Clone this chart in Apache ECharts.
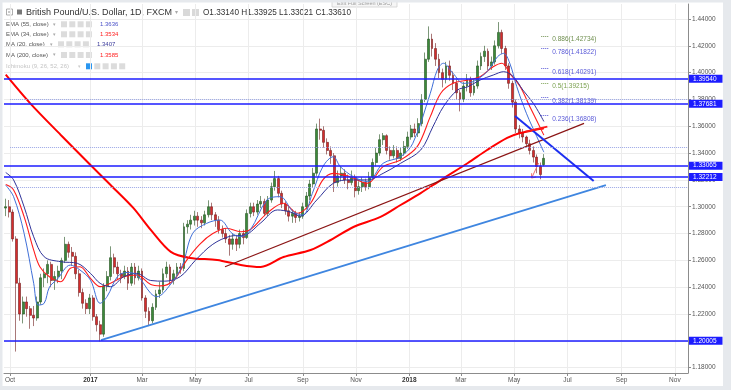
<!DOCTYPE html>
<html><head><meta charset="utf-8">
<script src="https://cdn.jsdelivr.net/npm/echarts@6/dist/echarts.min.js"></script>
<style>html,body{margin:0;padding:0;background:#fff;}#c{width:731px;height:390px;}</style>
</head><body><div id="c"></div>
<script>
// ================= DATA =================
const candleStart = '2016-09-26';
const candleStepDays = 4;
// rows: [open, close, low, high]
const ohlc = [
[1.2990,1.3000,1.2930,1.3060],[1.3000,1.2960,1.2920,1.3050],[1.2960,1.2760,1.2740,1.2980],[1.2760,1.2430,1.1920,1.2780],
[1.2430,1.2200,1.2150,1.2470],[1.2200,1.2290,1.2130,1.2330],[1.2290,1.2240,1.2180,1.2330],[1.2240,1.2190,1.2090,1.2260],
[1.2190,1.2170,1.2110,1.2260],[1.2170,1.2290,1.2150,1.2330],[1.2290,1.2470,1.2270,1.2500],[1.2470,1.2500,1.2400,1.2540],
[1.2500,1.2570,1.2430,1.2600],[1.2570,1.2450,1.2400,1.2590],[1.2450,1.2480,1.2380,1.2520],[1.2480,1.2520,1.2430,1.2560],
[1.2520,1.2600,1.2460,1.2620],[1.2600,1.2720,1.2580,1.2775],[1.2720,1.2660,1.2620,1.2740],[1.2660,1.2630,1.2560,1.2700],
[1.2630,1.2500,1.2460,1.2660],[1.2500,1.2360,1.2330,1.2530],[1.2360,1.2280,1.2240,1.2390],[1.2280,1.2240,1.2200,1.2310],
[1.2240,1.2320,1.2200,1.2350],[1.2320,1.2180,1.2150,1.2340],[1.2180,1.2120,1.2070,1.2200],[1.2120,1.2050,1.1995,1.2150],
[1.2050,1.2410,1.2030,1.2430],[1.2410,1.2480,1.2370,1.2520],[1.2480,1.2620,1.2450,1.2705],[1.2620,1.2550,1.2500,1.2650],
[1.2550,1.2500,1.2460,1.2590],[1.2500,1.2480,1.2430,1.2530],[1.2480,1.2520,1.2460,1.2560],[1.2520,1.2430,1.2380,1.2550],
[1.2430,1.2550,1.2410,1.2580],[1.2550,1.2470,1.2420,1.2580],[1.2470,1.2520,1.2450,1.2560],[1.2520,1.2320,1.2300,1.2540],
[1.2320,1.2220,1.2170,1.2340],[1.2220,1.2150,1.2110,1.2250],[1.2150,1.2250,1.2130,1.2280],[1.2250,1.2350,1.2230,1.2380],
[1.2350,1.2380,1.2320,1.2440],[1.2380,1.2500,1.2360,1.2540],[1.2500,1.2550,1.2470,1.2590],[1.2550,1.2450,1.2420,1.2570],
[1.2450,1.2500,1.2420,1.2530],[1.2500,1.2550,1.2470,1.2580],[1.2550,1.2540,1.2500,1.2580],[1.2540,1.2850,1.2520,1.2880],
[1.2850,1.2870,1.2800,1.2900],[1.2870,1.2900,1.2830,1.2940],[1.2900,1.2930,1.2860,1.2970],[1.2930,1.2900,1.2850,1.2960],
[1.2900,1.2880,1.2840,1.2930],[1.2880,1.2940,1.2860,1.2970],[1.2940,1.3000,1.2920,1.3048],[1.3000,1.2940,1.2900,1.3030],
[1.2940,1.2900,1.2850,1.2960],[1.2900,1.2830,1.2800,1.2930],[1.2830,1.2800,1.2770,1.2860],[1.2800,1.2760,1.2730,1.2840],
[1.2760,1.2720,1.2635,1.2790],[1.2720,1.2760,1.2680,1.2800],[1.2760,1.2720,1.2670,1.2790],[1.2720,1.2800,1.2690,1.2830],
[1.2800,1.2770,1.2720,1.2830],[1.2770,1.2950,1.2760,1.2980],[1.2950,1.3000,1.2920,1.3030],[1.3000,1.2960,1.2930,1.3030],
[1.2960,1.3020,1.2940,1.3050],[1.3020,1.3040,1.2990,1.3080],[1.3040,1.2950,1.2930,1.3060],[1.2950,1.3050,1.2930,1.3080],
[1.3050,1.3150,1.3030,1.3180],[1.3150,1.3210,1.3120,1.3267],[1.3210,1.3100,1.3070,1.3230],[1.3100,1.3020,1.2990,1.3120],
[1.3020,1.2970,1.2940,1.3040],[1.2970,1.2930,1.2890,1.3000],[1.2930,1.2950,1.2880,1.2980],[1.2950,1.2920,1.2880,1.2970],
[1.2920,1.2930,1.2890,1.2960],[1.2930,1.3000,1.2910,1.3030],[1.3000,1.3080,1.2980,1.3110],[1.3080,1.3170,1.3050,1.3200],
[1.3170,1.3250,1.3140,1.3290],[1.3250,1.3580,1.3230,1.3620],[1.3580,1.3570,1.3500,1.3657],[1.3570,1.3480,1.3440,1.3600],
[1.3480,1.3420,1.3390,1.3510],[1.3420,1.3380,1.3320,1.3450],[1.3380,1.3180,1.3110,1.3400],[1.3180,1.3230,1.3150,1.3270],
[1.3230,1.3250,1.3190,1.3300],[1.3250,1.3200,1.3170,1.3280],[1.3200,1.3180,1.3130,1.3240],[1.3180,1.3220,1.3160,1.3270],
[1.3220,1.3120,1.3070,1.3240],[1.3120,1.3150,1.3090,1.3190],[1.3150,1.3180,1.3110,1.3220],[1.3180,1.3150,1.3120,1.3210],
[1.3150,1.3220,1.3130,1.3260],[1.3220,1.3330,1.3200,1.3360],[1.3330,1.3400,1.3300,1.3440],[1.3400,1.3500,1.3380,1.3540],
[1.3500,1.3530,1.3460,1.3550],[1.3530,1.3420,1.3390,1.3540],[1.3420,1.3380,1.3350,1.3450],[1.3380,1.3420,1.3360,1.3460],
[1.3420,1.3360,1.3330,1.3450],[1.3360,1.3400,1.3340,1.3440],[1.3400,1.3450,1.3380,1.3490],[1.3450,1.3520,1.3430,1.3560],
[1.3520,1.3580,1.3500,1.3610],[1.3580,1.3550,1.3520,1.3620],[1.3550,1.3620,1.3520,1.3660],[1.3620,1.3800,1.3600,1.3840],
[1.3800,1.4100,1.3780,1.4150],[1.4100,1.4250,1.4080,1.4345],[1.4250,1.4180,1.4120,1.4290],[1.4180,1.4100,1.4050,1.4220],
[1.4100,1.4000,1.3960,1.4140],[1.4000,1.3950,1.3890,1.4030],[1.3950,1.4050,1.3920,1.4080],[1.4050,1.3980,1.3940,1.4090],
[1.3980,1.3920,1.3870,1.4010],[1.3920,1.3850,1.3800,1.3950],[1.3850,1.3800,1.3711,1.3870],[1.3800,1.3900,1.3780,1.3930],
[1.3900,1.3950,1.3860,1.3990],[1.3950,1.3850,1.3820,1.3970],[1.3850,1.3900,1.3830,1.3950],[1.3900,1.4050,1.3880,1.4090],
[1.4050,1.4120,1.4020,1.4150],[1.4120,1.4160,1.4080,1.4200],[1.4160,1.4050,1.4020,1.4180],[1.4050,1.4080,1.4020,1.4120],
[1.4080,1.4200,1.4060,1.4240],[1.4200,1.4300,1.4180,1.4377],[1.4300,1.4180,1.4140,1.4320],[1.4180,1.4050,1.4020,1.4200],
[1.4050,1.3920,1.3880,1.4070],[1.3920,1.3780,1.3740,1.3940],[1.3780,1.3580,1.3550,1.3800],[1.3580,1.3550,1.3510,1.3610],
[1.3550,1.3520,1.3480,1.3580],[1.3520,1.3470,1.3450,1.3530],[1.3470,1.3420,1.3390,1.3500],[1.3420,1.3370,1.3330,1.3450],
[1.3370,1.3300,1.3250,1.3390],[1.3300,1.3240,1.3205,1.3330],[1.33140,1.33610,1.33021,1.33925]
];

const ma200 = [['2016-09-26',1.3985],['2016-10-24',1.3771],['2016-11-28',1.3535],['2017-01-01',1.3311],['2017-01-24',1.3162],
['2017-02-19',1.2991],['2017-03-11',1.2827],['2017-04-03',1.2663],['2017-04-25',1.2618],['2017-05-26',1.2603],['2017-06-22',1.2566],
['2017-07-15',1.2551],['2017-08-10',1.2625],['2017-09-10',1.2677],['2017-10-03',1.2752],['2017-10-29',1.2849],['2017-11-29',1.2924],
['2017-12-22',1.3013],['2018-01-14',1.3102],['2018-02-06',1.3199],['2018-03-09',1.3326],['2018-03-31',1.3423],['2018-04-23',1.3513],
['2018-05-08',1.3550],['2018-06-04',1.3585]];
const ema55 = [['2016-09-26',1.3255],['2016-10-05',1.3200],['2016-10-17',1.3000],['2016-10-28',1.2776],['2016-11-09',1.2627],
['2016-11-28',1.2590],['2016-12-17',1.2578],['2017-01-01',1.2503],['2017-01-12',1.2429],['2017-01-24',1.2404],['2017-02-08',1.2478],
['2017-02-23',1.2503],['2017-03-11',1.2450],['2017-03-27',1.2445],['2017-04-14',1.2480],['2017-05-01',1.2600],['2017-05-21',1.2720],
['2017-06-10',1.2780],['2017-06-27',1.2790],['2017-07-15',1.2880],['2017-08-03',1.2976],['2017-08-18',1.2960],['2017-08-29',1.2930],
['2017-09-17',1.3050],['2017-10-06',1.3175],['2017-10-25',1.3200],['2017-11-14',1.3200],['2017-12-02',1.3249],['2017-12-22',1.3324],
['2018-01-14',1.3423],['2018-01-28',1.3597],['2018-02-09',1.3746],['2018-02-25',1.3870],['2018-03-09',1.3895],['2018-03-23',1.3945],
['2018-04-07',1.3982],['2018-04-19',1.4007],['2018-04-30',1.3970],['2018-05-11',1.3870],['2018-05-23',1.3771],['2018-06-04',1.3636]];
const ema34 = [['2016-09-26',1.3165],['2016-10-05',1.3125],['2016-10-17',1.2926],['2016-10-28',1.2677],['2016-11-04',1.2553],
['2016-11-15',1.2478],['2016-11-28',1.2441],['2016-12-09',1.2541],['2016-12-20',1.2553],['2017-01-01',1.2466],['2017-01-12',1.2404],
['2017-01-24',1.2429],['2017-02-08',1.2478],['2017-02-23',1.2491],['2017-03-11',1.2420],['2017-03-22',1.2410],['2017-04-06',1.2450],
['2017-04-21',1.2600],['2017-05-06',1.2720],['2017-05-21',1.2800],['2017-06-06',1.2840],['2017-06-22',1.2814],['2017-07-03',1.2830],
['2017-07-22',1.2951],['2017-08-10',1.3026],['2017-08-26',1.2951],['2017-09-10',1.3026],['2017-09-24',1.3200],['2017-10-06',1.3249],
['2017-10-25',1.3224],['2017-11-14',1.3175],['2017-12-02',1.3299],['2017-12-22',1.3349],['2018-01-10',1.3448],['2018-01-25',1.3672],
['2018-02-06',1.3846],['2018-02-20',1.3920],['2018-03-09',1.3945],['2018-03-23',1.3970],['2018-04-07',1.4044],['2018-04-17',1.4070],
['2018-04-26',1.3995],['2018-05-08',1.3895],['2018-05-19',1.3746],['2018-06-04',1.3534]];
const ma20 = [['2016-09-26',1.3160],['2016-10-05',1.3075],['2016-10-17',1.2802],['2016-10-28',1.2429],['2016-11-02',1.2267],
['2016-11-09',1.2280],['2016-11-15',1.2400],['2016-11-24',1.2460],['2016-12-09',1.2565],['2016-12-20',1.2528],['2017-01-01',1.2453],
['2017-01-12',1.2280],['2017-01-20',1.2330],['2017-02-01',1.2480],['2017-02-12',1.2510],['2017-02-23',1.2491],['2017-03-11',1.2354],
['2017-03-18',1.2329],['2017-04-02',1.2416],['2017-04-16',1.2560],['2017-04-28',1.2802],['2017-05-14',1.2876],['2017-05-29',1.2901],
['2017-06-12',1.2802],['2017-06-22',1.2777],['2017-07-03',1.2827],['2017-07-22',1.3050],['2017-08-06',1.3075],['2017-08-21',1.2963],
['2017-09-01',1.2938],['2017-09-12',1.3100],['2017-09-24',1.3299],['2017-10-06',1.3373],['2017-10-14',1.3299],['2017-10-29',1.3224],
['2017-11-14',1.3187],['2017-12-02',1.3324],['2017-12-22',1.3373],['2018-01-05',1.3473],['2018-01-25',1.3846],['2018-02-02',1.4020],
['2018-02-09',1.4070],['2018-02-20',1.3995],['2018-03-04',1.3920],['2018-03-15',1.3933],['2018-03-31',1.4007],['2018-04-12',1.4119],
['2018-04-19',1.4144],['2018-04-26',1.4070],['2018-05-04',1.3895],['2018-05-15',1.3697],['2018-05-27',1.3522],['2018-06-04',1.3407]];

const xTickDates = ['2016-10-01','2017-01-01','2017-03-01','2017-05-01','2017-07-01','2017-09-01','2017-11-01','2018-01-01','2018-03-01','2018-05-01','2018-07-01','2018-09-01','2018-11-01'];
const xTickLabels = ['Oct','2017','Mar','May','Jul','Sep','Nov','2018','Mar','May','Jul','Sep','Nov'];
const yTicks = [1.18,1.20,1.22,1.24,1.26,1.28,1.30,1.32,1.34,1.36,1.38,1.40,1.42,1.44];

const levels = [1.39540,1.37681,1.33065,1.32212,1.20005];
const lastPrice = 1.33610;
const dottedLevels = [1.3800,1.3445,1.3145];
const fibRatios = ['0.886','0.786','0.618','0.5','0.382','0.236'];
const fibPrices = [1.42734,1.41822,1.40291,1.39215,1.38139,1.36808];
const fibColors = ['#6f8f4f','#5a5ad8','#5a5ad8','#7aa04f','#5a5ad8','#5a5ad8'];

const darkRedTrend = [['2017-06-04',1.2553],['2018-07-20',1.3622]];
const lightBlueTrend = [['2017-01-13',1.2006],['2018-08-14',1.3162]];
const blueDownTrend = [['2018-05-02',1.3677],['2018-07-31',1.3192]];
const redArrow = [['2018-05-29',1.3326],['2018-05-21',1.3214]];
const redArrowHead = [['2018-05-21',1.3250],['2018-05-21',1.3214],['2018-05-26',1.3222]];
const redMark = [['2018-05-14',1.3560],['2018-06-08',1.3597]];

const legendNames = ['EMA (55, close)','EMA (34, close)','MA (20, close)','MA (200, close)'];
const legendValues = ['1.3636','1.3534','1.3407','1.3585'];
const headerOHLC = 'O1.33140 H1.33925 L1.33021 C1.33610';

// ================= CHART =================
const T = s => Date.parse(s + 'T00:00:00Z');
const DAY = 864e5;
const X_MIN = T('2016-09-24'), X_MAX = T('2018-11-16');
const Y_MIN = 1.176018, Y_MAX = 1.451186;
const FONT = '"Liberation Sans", Arial, sans-serif';
const candleData = ohlc.map((r, i) => [T(candleStart) + i * candleStepDays * DAY, r[0], r[1], r[2], r[3]]);
const pts = a => a.map(p => [T(p[0]), p[1]]);
const xTicks = xTickDates.map(T);

const ml = [];
levels.forEach(v => ml.push({
  yAxis: v,
  lineStyle: {color: '#1c1cff', width: 1.6, type: 'solid'},
  label: {show: true, position: 'end', distance: 1, formatter: v.toFixed(5), color: '#fff',
    backgroundColor: '#1c1cff', padding: [1, 6, 1, 4], fontSize: 6.5, fontFamily: FONT, lineHeight: 6}
}));
ml.push({
  yAxis: lastPrice,
  lineStyle: {color: '#4a802e', width: 0, opacity: 0},
  label: {show: true, position: 'end', distance: 1, formatter: lastPrice.toFixed(5), color: '#fff',
    backgroundColor: '#4a802e', padding: [1, 6, 1, 4], fontSize: 6.5, fontFamily: FONT, lineHeight: 6}
});
dottedLevels.forEach(v => ml.push([
  {coord: [T('2016-10-01'), v], lineStyle: {color: '#9aa6e6', width: 1, type: 'dotted'}, label: {show: false}},
  {coord: [X_MAX, v]}
]));
fibPrices.forEach((p, i) => ml.push([
  {coord: [T('2018-06-01'), p], lineStyle: {color: fibColors[i], width: 1, type: 'dotted'},
   label: {show: true, position: 'end', distance: 4, offset: [0, 3.5], formatter: fibRatios[i] + '(' + p.toFixed(5) + ')',
     color: fibColors[i], fontSize: 6.5, fontFamily: FONT}},
  {coord: [T('2018-06-09'), p]}
]));

function lineSeries(data, color, width, smooth, extra) {
  return Object.assign({type: 'line', data: pts(data), smooth: smooth, showSymbol: false, symbol: 'none',
    lineStyle: {color: color, width: width}, silent: true, z: 3, clip: false}, extra || {});
}

const graphics = [];
graphics.push({type: 'rect', shape: {x: 6.5, y: 9, width: 6, height: 6}, style: {fill: '#fff', stroke: '#999', lineWidth: 0.8}});
graphics.push({type: 'rect', shape: {x: 8, y: 11.6, width: 3, height: 0.8}, style: {fill: '#777'}});
graphics.push({type: 'rect', shape: {x: 17, y: 9.5, width: 5, height: 5}, style: {fill: '#777'}});
graphics.push({type: 'text', x: 26, y: 12.5, style: {text: 'British Pound/U.S. Dollar, 1D, FXCM', fill: '#333', font: '9px ' + FONT, verticalAlign: 'middle'}});
graphics.push({type: 'text', x: 175, y: 12.5, style: {text: '▾', fill: '#aaa', font: '6px ' + FONT, verticalAlign: 'middle'}});
[183, 192].forEach(x => graphics.push({type: 'rect', shape: {x: x, y: 9, width: 7, height: 7}, style: {fill: '#d9d9d9'}}));
graphics.push({type: 'text', x: 203, y: 12.5, style: {text: headerOHLC, fill: '#333', font: '8.2px ' + FONT, verticalAlign: 'middle'}});
const legendY = [24.3, 34.3, 44.3, 55, 66.3];
const legendColors = ['#4b52c8', '#ff2020', '#3a3a9a', '#ff2020'];
const iconStart = [61, 61, 58, 61];
const arrowX = [53, 53, 50, 53];
const valueX = [100, 100, 97, 100];
legendNames.forEach((n, i) => {
  graphics.push({type: 'text', x: 6, y: legendY[i], style: {text: n, fill: '#555', font: '6px ' + FONT, verticalAlign: 'middle'}});
  graphics.push({type: 'text', x: arrowX[i], y: legendY[i], style: {text: '▾', fill: '#aaa', font: '5px ' + FONT, verticalAlign: 'middle'}});
  for (let k = 0; k < 4; k++) graphics.push({type: 'rect', shape: {x: iconStart[i] + k * 8.3, y: legendY[i] - 3, width: 6, height: 6}, style: {fill: '#dcdcdc'}});
  graphics.push({type: 'text', x: valueX[i], y: legendY[i], style: {text: legendValues[i], fill: legendColors[i], font: '6px ' + FONT, verticalAlign: 'middle'}});
});
graphics.push({type: 'text', x: 6, y: legendY[4], style: {text: 'Ichimoku (9, 26, 52, 26)', fill: '#c4c4c4', font: '6px ' + FONT, verticalAlign: 'middle'}});
graphics.push({type: 'text', x: 78, y: legendY[4], style: {text: '▾', fill: '#ccc', font: '5px ' + FONT, verticalAlign: 'middle'}});
for (let k = 0; k < 5; k++) graphics.push({type: 'rect', shape: {x: 86 + k * 8.3, y: legendY[4] - 3, width: 6, height: 6}, style: {fill: k === 0 ? '#2a96f0' : '#dcdcdc'}});
graphics.push({type: 'rect', shape: {x: 332, y: -1, width: 65, height: 8}, style: {fill: '#f6f6f6', stroke: '#d0d0d0', lineWidth: 0.8}});
graphics.push({type: 'text', x: 364.5, y: 3.3, style: {text: 'Exit Full Screen (ESC)', fill: '#9a9a9a', font: '5.5px ' + FONT, align: 'center', verticalAlign: 'middle'}});
[[0, 0, 731, 2.5], [0, 0, 2.5, 390], [723, 0, 8, 390], [0, 386, 731, 4]].forEach(r =>
  graphics.push({type: 'rect', z: 100, shape: {x: r[0], y: r[1], width: r[2], height: r[3]}, style: {fill: '#e6e9ed'}}));

const chart = echarts.init(document.getElementById('c'), null, {renderer: 'canvas'});
chart.setOption({
  animation: false,
  backgroundColor: '#ffffff',
  grid: {left: 4, right: 43, top: 4, bottom: 17, containLabel: false},
  xAxis: {
    type: 'value', min: X_MIN, max: X_MAX,
    axisLine: {show: true, lineStyle: {color: '#8c8c8c', width: 1}},
    axisTick: {show: true, customValues: xTicks, length: 3, lineStyle: {color: '#8c8c8c'}},
    axisLabel: {show: true, customValues: xTicks, fontSize: 6.5, color: '#555', fontFamily: FONT, margin: 4,
      formatter: v => { const i = xTicks.indexOf(v); const s = i >= 0 ? xTickLabels[i] : ''; return /^\d{4}$/.test(s) ? '{b|' + s + '}' : s; },
      rich: {b: {fontWeight: 'bold', color: '#333', fontSize: 6.5, fontFamily: FONT}}},
    splitLine: {show: true, lineStyle: {color: '#ececec', width: 1}}
  },
  yAxis: {
    type: 'value', position: 'right', min: Y_MIN, max: Y_MAX,
    axisLine: {show: true, lineStyle: {color: '#8c8c8c', width: 1}},
    axisTick: {show: true, customValues: yTicks, length: 3, lineStyle: {color: '#8c8c8c'}},
    axisLabel: {show: true, customValues: yTicks, fontSize: 6.5, color: '#555', fontFamily: FONT, margin: 4,
      formatter: v => v.toFixed(5)},
    splitLine: {show: true, lineStyle: {color: '#ececec', width: 1}}
  },
  series: [
    {
      type: 'candlestick', data: candleData, encode: {x: 0, y: [1, 2, 3, 4]},
      barWidth: 2.4, clip: false, silent: true, z: 2,
      itemStyle: {color: '#3b8a3a', color0: '#d62c2c', borderColor: '#23501f', borderColor0: '#6e1c1c', borderWidth: 0.6},
      markLine: {symbol: ['none', 'none'], precision: 5, silent: true, animation: false, data: ml}
    },
    lineSeries(ma200, '#ff0000', 2, 0.3),
    lineSeries(ema34, '#ff1c1c', 1.1, 0.35),
    lineSeries(ema55, '#2f3399', 1, 0.35),
    lineSeries(ma20, '#3f6fd8', 1, 0.35),
    lineSeries(darkRedTrend, '#8b1515', 1.2, false),
    lineSeries(lightBlueTrend, '#3f86e0', 1.8, false),
    lineSeries(blueDownTrend, '#1c2ff0', 2, false),
    lineSeries(redMark, '#ff1a1a', 1.8, false),
    lineSeries(redArrow, '#f07070', 1, false),
    lineSeries(redArrowHead, '#f07070', 1, false)
  ],
  graphic: graphics
});
</script></body></html>
